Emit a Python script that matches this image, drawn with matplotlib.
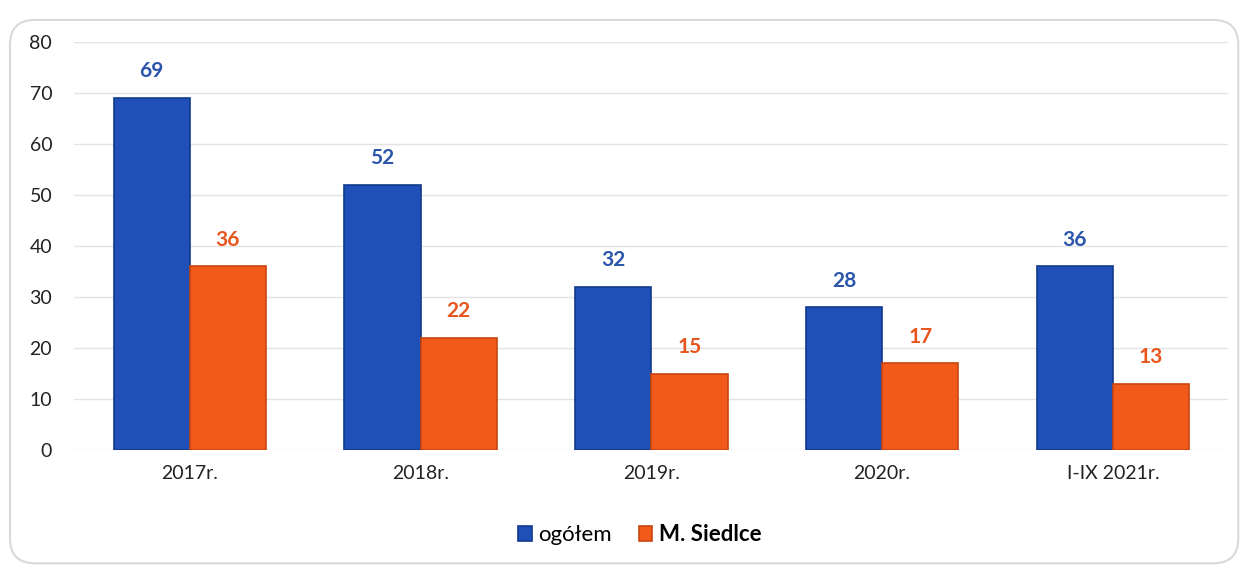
import matplotlib.pyplot as plt
from matplotlib.patches import FancyBboxPatch
import numpy as np

categories = ["2017r.", "2018r.", "2019r.", "2020r.", "I-IX 2021r."]
ogolem = [69, 52, 32, 28, 36]
siedlce = [36, 22, 15, 17, 13]
series_names = ["ogółem", "M. Siedlce"]

plt.rcParams['font.family'] = ['Lato', 'DejaVu Sans']

blue = "#1E50B8"
blue_edge = "#113A8C"
orange = "#F25A1C"
orange_edge = "#C9450F"

fig = plt.figure(figsize=(12.47, 5.69), dpi=100)
ax = fig.add_axes([0.0597, 0.2091, 0.9253, 0.7171])

# rounded frame around the chart area
frame = FancyBboxPatch((0.008, 0.01), 0.985, 0.955, boxstyle="round,pad=0,rounding_size=0.02",
                       transform=fig.transFigure, facecolor="none", edgecolor="#D9D9D9",
                       linewidth=1.5, mutation_aspect=1247 / 569)
fig.patches.append(frame)

x = np.arange(len(categories))
width = 0.33

b1 = ax.bar(x - width / 2, ogolem, width, color=blue, edgecolor=blue_edge, linewidth=1.2,
            label=series_names[0], zorder=3)
b2 = ax.bar(x + width / 2, siedlce, width, color=orange, edgecolor=orange_edge, linewidth=1.2,
            label=series_names[1], zorder=3)

for rect, v in zip(b1, ogolem):
    ax.annotate(str(v), (rect.get_x() + rect.get_width() / 2, v), xytext=(0, 12),
                textcoords="offset points", ha="center", va="bottom",
                fontsize=15, fontweight="bold", color="#2A55AA")
for rect, v in zip(b2, siedlce):
    ax.annotate(str(v), (rect.get_x() + rect.get_width() / 2, v), xytext=(0, 12),
                textcoords="offset points", ha="center", va="bottom",
                fontsize=15, fontweight="bold", color="#E8561E")

ax.set_xlim(-0.5, 4.5)
ax.set_ylim(0, 80)
ax.set_yticks(range(0, 81, 10))
ax.set_xticks(x, categories)
ax.tick_params(axis="both", length=0, labelsize=14, colors="#222222")
ax.tick_params(axis="y", pad=16)
ax.tick_params(axis="x", pad=11)
ax.grid(axis="y", color="#E3E3E3", linewidth=1, zorder=0)
for s in ax.spines.values():
    s.set_visible(False)

leg = fig.legend(handles=[b1, b2], labels=series_names, loc="center", bbox_to_anchor=(0.513, 0.06),
                 ncol=2, frameon=False, fontsize=16, handlelength=0.6, handleheight=0.6,
                 handletextpad=0.3, columnspacing=1.2)
leg.get_texts()[1].set_fontweight("bold")

fig.savefig("out.png", dpi=100)
